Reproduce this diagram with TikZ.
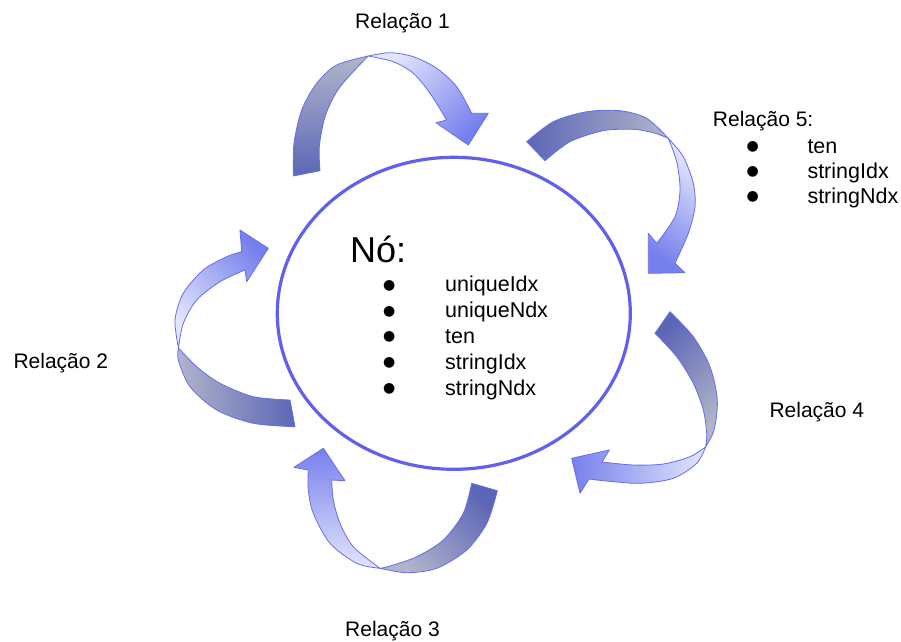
\documentclass[tikz,border=0pt]{standalone}
\usepackage{fontspec}
\setmainfont{Liberation Sans}
\newfontfamily\symfont{DejaVu Sans}
\usetikzlibrary{shapes.geometric}

\definecolor{ringblue}{RGB}{96,96,236}
\definecolor{arrline}{RGB}{104,108,232}
\definecolor{banddark}{RGB}{92,102,182}
\definecolor{bandgrey}{RGB}{176,181,202}
\definecolor{bandlight}{RGB}{226,230,252}
\definecolor{bandblue}{RGB}{118,128,236}

\tikzset{
  band/.style={draw=arrline, line width=0.8pt, line join=round},
  label/.style={anchor=base west, inner sep=0, font=\fontsize{21}{25}\selectfont},
  item/.style={anchor=base west, inner sep=0, font=\fontsize{21.5}{25}\selectfont},
  dot/.style={anchor=center, inner sep=0, font=\symfont\fontsize{14}{14}\selectfont},
}

\begin{document}
\begin{tikzpicture}[x=1pt, y=-1pt]
\useasboundingbox (0,0) rectangle (901,641);

% central node
\node (no) [ellipse, draw=ringblue, line width=3.2pt, minimum width=353pt,
  minimum height=312pt, inner sep=0] at (453.8,313.3) {};

% ---- arrow 1 (top) ----
\shadedraw[band, top color=bandgrey, bottom color=banddark]
  plot[smooth] coordinates {(293.3,176) (294,143.3) (301.7,110) (316.7,83.3) (336.7,65) (368.3,56)}
  -- plot[smooth] coordinates {(368.3,56) (351.7,73.3) (336.7,91.7) (325,116.7) (319.3,146.7) (320,170.7)}
  -- cycle;
\shadedraw[band, top color=bandlight, bottom color=bandblue, shading angle=45]
  plot[smooth] coordinates {(368.3,56) (390,52.7) (413.3,56.7) (436.7,68.3) (456.7,86.7) (471.7,113.3)}
  -- (488.3,113.3) -- (468.3,145) -- (436,122.7) -- (446.7,120)
  -- plot[smooth] coordinates {(446.7,120) (430,93.3) (413.3,73.3) (393.3,61.7) (368.3,56)}
  -- cycle;

% ---- arrow 5 (upper right) ----
\shadedraw[band, left color=banddark, right color=bandgrey]
  plot[smooth] coordinates {(526.7,141.7) (553.3,121.7) (586.7,111.7) (620,110.7) (646.7,118.3) (668.3,138.3)}
  -- plot[smooth] coordinates {(668.3,138.3) (653.3,132.7) (633.3,129.3) (603.3,130.7) (570,141.7) (545,160.7)}
  -- cycle;
\shadedraw[band, top color=bandlight, bottom color=bandblue, shading angle=-35]
  plot[smooth] coordinates {(668.3,138.3) (683.3,156.7) (693.3,183.3) (695,206.7) (688.3,233.3) (675,263.3)}
  -- (685,272.7) -- (648.3,273.3) -- (648.3,233.3) -- (656.7,243.3)
  -- plot[smooth] coordinates {(656.7,243.3) (675,216.7) (680,190) (676.7,161.7) (668.3,138.3)}
  -- cycle;

% ---- arrow 4 (lower right) ----
\shadedraw[band, top color=banddark, bottom color=bandgrey, shading angle=45]
  plot[smooth] coordinates {(670,311.7) (693.3,336.7) (710,366.7) (717.3,400) (714,430) (705.7,446.7)}
  -- plot[smooth] coordinates {(705.7,446.7) (706.7,433.3) (703.3,410) (693.3,383.3) (676.7,356.7) (655,333.3)}
  -- cycle;
\shadedraw[band, left color=bandblue, right color=bandlight]
  plot[smooth] coordinates {(705.7,446.7) (696.7,463.3) (673.3,478.3) (640,483.3) (606.7,481) (589,479)}
  -- (580,493.3) -- (571.7,458.3) -- (609.3,450) -- (602,462)
  -- plot[smooth] coordinates {(602,462) (633.3,465) (663.3,464) (690,456.7) (705.7,446.7)}
  -- cycle;

% ---- arrow 3 (bottom) ----
\shadedraw[band, top color=banddark, bottom color=bandgrey, shading angle=-45]
  plot[smooth] coordinates {(497.3,490.7) (487,523) (466.7,550) (436.7,568.3) (406.7,572.7) (380,568.3)}
  -- plot[smooth] coordinates {(380,568.3) (390,566) (416.7,556.7) (443.3,540) (463.3,513.3) (471.7,483.3)}
  -- cycle;
\shadedraw[band, top color=bandblue, bottom color=bandlight]
  plot[smooth] coordinates {(380,568.3) (356.7,563.3) (330,543.3) (313.3,513.3) (308.3,490) (308.3,470)}
  -- (294,467.3) -- (323.3,448.3) -- (345,480.7) -- (331.7,480)
  -- plot[smooth] coordinates {(331.7,480) (333.3,500) (340,523.3) (353.3,546.7) (380,568.3)}
  -- cycle;

% ---- arrow 2 (left) ----
\shadedraw[band, left color=bandgrey, right color=banddark]
  plot[smooth] coordinates {(290,400) (253.3,396.7) (220,383.3) (196.7,366.7) (178.5,348)}
  -- plot[smooth] coordinates {(178.5,348) (178.3,360) (190,386.7) (216.7,410) (253.3,423.3) (295,426.7)}
  -- cycle;
\shadedraw[band, top color=bandlight, bottom color=bandblue, shading angle=135]
  plot[smooth] coordinates {(178.5,348) (175,320) (183.3,293.3) (203.3,270) (226.7,256.7) (241.7,251.7)}
  -- (240,230) -- (268.3,248.3) -- (246.7,281.7) -- (245,270)
  -- plot[smooth] coordinates {(245,270) (220,281.7) (196.7,300) (183.3,323.3) (178.5,348)}
  -- cycle;

% ---- texts ----
\node (nolabel) [anchor=base west, inner sep=0, font=\fontsize{36}{40}\selectfont] at (350,262.7) {Nó:};
\foreach \t [count=\i from 0] in {uniqueIdx, uniqueNdx, ten, stringIdx, stringNdx} {
  \node (nb\i) [dot] at (389.3,{285.5+25.9*\i}) {●};
  \node (ni\i) [item] at (445,{291.7+25.9*\i}) {\t};
}

\node (r1) [label] at (355,28.3) {Relação 1};
\node (r2) [label] at (13.3,368.3) {Relação 2};
\node (r3) [label] at (345,636.7) {Relação 3};
\node (r4) [label] at (769.3,417.3) {Relação 4};
\node (r5) [label] at (712.7,126.7) {Relação 5:};
\foreach \t [count=\i from 0] in {ten, stringIdx, stringNdx} {
  \node (rb\i) [dot] at (752.7,{147+25*\i}) {●};
  \node (ri\i) [item] at (807.3,{153.3+25.3*\i}) {\t};
}
\end{tikzpicture}
\end{document}
